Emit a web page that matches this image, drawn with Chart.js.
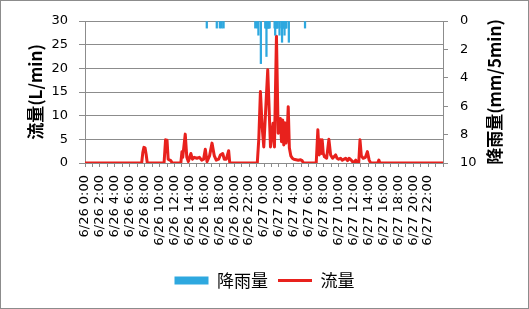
<!DOCTYPE html>
<html>
<head>
<meta charset="utf-8">
<script src="https://cdn.jsdelivr.net/npm/chart.js@4.4.1/dist/chart.umd.min.js"></script>
<style>
  html, body { margin: 0; padding: 0; background: #fff; }
  #wrap { width: 529px; height: 309px; box-sizing: border-box; border: 1px solid #8c8c8c; }
  #wrap canvas { display: block; }
</style>
</head>
<body>
<div id="wrap"><canvas id="chart" width="527" height="307"></canvas></div>
<script>
// hours counted from 6/26 0:00
var days = ['6/26', '6/27'];
var hourTicks = [];
for (var h = 0; h <= 48; h++) hourTicks.push(h);

// rainfall (mm/5min), bars hanging from the top
var rainHours = [16.33, 17.67, 18.08, 18.33, 18.58,
                 22.83, 23.08, 23.25, 23.58,
                 24.17, 24.25, 24.33, 24.42, 24.5, 24.58, 24.67, 24.75,
                 25.42, 25.5, 25.58, 25.67, 25.75, 25.83,
                 26.08,
                 26.33, 26.42, 26.5, 26.58, 26.67, 26.75, 26.83, 26.92, 27.0,
                 27.33, 29.5];
var rainMm =    [0.5, 0.5, 0.5, 0.5, 0.5,
                 0.5, 0.5, 1.0, 3.0,
                 0.5, 0.5, 2.5, 0.5, 0.5, 0.5, 0.5, 0.5,
                 0.5, 1.0, 0.5, 0.5, 0.5, 0.5,
                 1.0,
                 0.5, 1.5, 0.5, 0.5, 0.5, 1.0, 0.5, 0.5, 0.5,
                 1.5, 0.5];

// flow (L/min)
var flowHours = [0, 7.6, 7.75, 7.9, 8.05, 8.2, 8.35,
                 10.6, 10.8, 11.0, 11.15, 11.5, 11.7,
                 12.85, 13.0, 13.1, 13.44, 13.65, 13.85, 14.2, 14.4, 14.65, 15.0, 15.35, 15.65, 15.9,
                 16.13, 16.36, 16.7, 17.03, 17.34, 17.6, 17.92, 18.15, 18.46, 18.68, 18.95, 19.26, 19.4, 19.5,
                 23.1, 23.3, 23.52, 23.75, 23.97, 24.5, 24.87, 25.22, 25.4, 25.67, 25.9, 26.05, 26.2,
                 26.35, 26.5, 26.65, 26.8, 26.95, 27.1, 27.25, 27.4, 27.6, 27.8, 28.0, 28.3, 28.6, 28.9, 29.1, 29.3,
                 31.0, 31.22, 31.4, 31.6, 31.7, 31.8, 31.95, 32.12, 32.4, 32.7, 32.93, 33.2, 33.6, 33.8, 34.0,
                 34.27, 34.5, 34.95, 35.2, 35.4, 35.7, 36.0, 36.3, 36.5,
                 36.7, 36.87, 37.05, 37.3, 37.6, 37.86, 38.1, 38.3, 39.25, 39.4, 39.55, 48];
var flowLmin =  [0, 0, 2.2, 3.3, 3.2, 1.8, 0,
                 0, 4.9, 4.8, 0.8, 0.5, 0,
                 0, 2.4, 1.2, 6.1, 1.2, 0.3, 2.0, 0.8, 1.2, 1.0, 1.2, 0.6, 0.8,
                 2.9, 0.3, 1.5, 4.2, 1.5, 0.6, 0.8, 1.7, 2.0, 0.8, 0.8, 2.6, 0.2, 0,
                 0, 5.0, 15.1, 7.7, 3.4, 19.7, 3.4, 8.4, 3.4, 26.8, 6.3, 8.0, 9.4,
                 4.5, 9.1, 3.8, 8.5, 4.2, 6.0, 11.9, 3.2, 1.5, 1.0, 0.8, 0.7, 0.6, 0.7, 0.5, 0,
                 0, 7.0, 1.7, 4.9, 2.0, 4.9, 2.0, 1.3, 1.0, 5.0, 1.7, 1.0, 1.7, 1.0, 0.8,
                 1.0, 0.6, 1.0, 0.5, 1.0, 0.6, 0, 0.6, 0,
                 0, 4.9, 1.5, 1.0, 1.2, 2.4, 0.6, 0, 0, 0.6, 0, 0];

var flowTicks = [0, 5, 10, 15, 20, 25, 30];
var rainTicks = [0, 2, 4, 6, 8, 10];

var leftTitle = '流量(L/min)';
var rightTitle = '降雨量(mm/5min)';
var rainLabel = '降雨量';
var flowLabel = '流量';

var blue = '#2ea8df';
var red = '#e8211d';
var gridGray = '#8c8c8c';
var tickFont = { family: '"DejaVu Sans", sans-serif', size: 13 };

function hourLabel(v) {
    if (v % 2 !== 0 || v >= 48) return '';
    return days[Math.floor(v / 24)] + ' ' + (v % 24) + ':00';
}

function toPoints(xs, ys) {
    return xs.map(function(x, i) { return { x: x, y: ys[i] }; });
}

// rotated axis titles, both read bottom to top
var axisTitles = {
    id: 'axisTitles',
    afterDraw: function(chart) {
        var ctx = chart.ctx;
        var area = chart.chartArea;
        var midY = (area.top + area.bottom) / 2;
        ctx.save();
        ctx.font = 'bold 17px "Noto Sans CJK JP", sans-serif';
        ctx.fillStyle = '#000';
        ctx.textAlign = 'center';
        ctx.textBaseline = 'middle';
        [[leftTitle, 34.5], [rightTitle, 494]].forEach(function(t) {
            ctx.save();
            ctx.translate(t[1], midY);
            ctx.rotate(-Math.PI / 2);
            ctx.fillText(t[0], 0, 0);
            ctx.restore();
        });
        ctx.restore();
    }
};

var chart = new Chart(document.getElementById('chart'), {
    type: 'bar',
    data: {
        datasets: [{
            label: rainLabel,
            data: toPoints(rainHours, rainMm),
            backgroundColor: blue,
            borderWidth: 0,
            barThickness: 1.6,
            xAxisID: 'x',
            yAxisID: 'y2'
        }, {
            type: 'line',
            label: flowLabel,
            data: toPoints(flowHours, flowLmin),
            borderColor: red,
            backgroundColor: red,
            borderWidth: 3,
            borderJoinStyle: 'round',
            pointRadius: 0,
            tension: 0,
            fill: false,
            xAxisID: 'x',
            yAxisID: 'y'
        }]
    },
    options: {
        responsive: false,
        animation: false,
        events: [],
        layout: { padding: { top: 20, bottom: 9, left: 0, right: 0 } },
        plugins: {
            tooltip: { enabled: false },
            legend: {
                position: 'bottom',
                labels: {
                    usePointStyle: true,
                    pointStyleWidth: 34,
                    boxHeight: 8,
                    padding: 10,
                    color: '#000',
                    font: { family: '"Noto Sans CJK JP", sans-serif', size: 17 },
                    generateLabels: function() {
                        return [
                            { text: rainLabel, fillStyle: blue, strokeStyle: blue, lineWidth: 0, pointStyle: 'rect', datasetIndex: 0, hidden: false },
                            { text: flowLabel, fillStyle: red, strokeStyle: red, lineWidth: 3, pointStyle: 'line', datasetIndex: 1, hidden: false }
                        ];
                    }
                }
            }
        },
        scales: {
            x: {
                type: 'linear',
                min: 0,
                max: 48,
                offset: false,
                afterBuildTicks: function(s) {
                    s.ticks = hourTicks.map(function(v) { return { value: v }; });
                },
                afterFit: function(s) { s.height = 99; },
                grid: { offset: false, drawOnChartArea: false, color: gridGray, tickLength: 4 },
                border: { color: gridGray },
                ticks: {
                    autoSkip: false,
                    minRotation: 90,
                    maxRotation: 90,
                    padding: 8,
                    color: '#000',
                    font: tickFont,
                    callback: function(v) { return hourLabel(v); }
                }
            },
            y: {
                position: 'left',
                min: 0,
                max: 30,
                afterBuildTicks: function(s) {
                    s.ticks = flowTicks.map(function(v) { return { value: v }; });
                },
                afterFit: function(s) { s.width = 84; },
                grid: { color: gridGray, tickLength: 6 },
                border: { color: gridGray },
                ticks: { padding: 11, color: '#000', font: tickFont }
            },
            y2: {
                position: 'right',
                reverse: true,
                min: 0,
                max: 10,
                afterBuildTicks: function(s) {
                    s.ticks = rainTicks.map(function(v) { return { value: v }; });
                },
                afterFit: function(s) { s.width = 85; },
                grid: { drawOnChartArea: false, color: gridGray, tickLength: 5 },
                border: { color: gridGray },
                ticks: { padding: 12, color: '#000', font: tickFont }
            }
        }
    },
    plugins: [axisTitles]
});
</script>
</body>
</html>
